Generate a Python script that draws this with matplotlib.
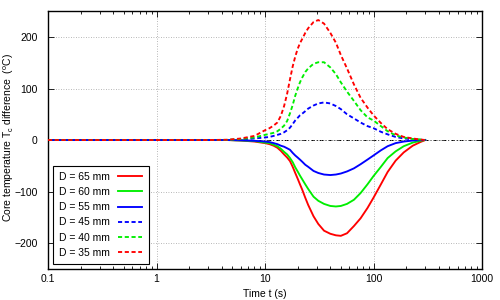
import matplotlib
matplotlib.use('Agg')
import matplotlib.pyplot as plt
from matplotlib.ticker import LogLocator, NullFormatter, FixedLocator

plt.rcParams['font.family'] = ['Liberation Sans', 'DejaVu Sans']
plt.rcParams['mathtext.fontset'] = 'custom'
plt.rcParams['mathtext.rm'] = 'Liberation Sans'

# time axis (s)
t = [0.1, 1, 3, 4.5, 6, 8, 10, 11, 12, 13, 14, 15, 16, 17, 18, 19, 20, 21, 22,
     23.5, 25, 28, 31, 35, 40, 45, 50, 57, 66, 76, 88, 100, 117, 135, 160, 190,
     230, 270, 300]

# solid curves (negative)
d65 = [0, 0, 0, 0, -1, -3, -6, -8, -11, -15, -21, -28, -34, -41, -52, -64, -75,
       -86, -96, -112, -126, -148, -163, -176, -182, -185, -186, -181, -167,
       -152, -132, -112, -86, -62, -40, -24, -11, -4, 0]
d60 = [0, 0, 0, 0, -0.8, -2, -5, -6, -9, -12, -17, -23, -28, -35, -43, -53, -61,
       -69, -76, -86, -95, -110, -118, -124, -128, -129, -128, -124, -116,
       -103, -86, -70, -52, -35, -22, -12, -5, -1.5, 0]
d55 = [0, 0, 0, 0, -0.5, -1.5, -3, -4, -6, -8, -11, -13, -16, -19, -25, -30,
       -34, -38, -42, -48, -52, -60, -64, -67, -68, -67, -65, -61, -55, -47,
       -38, -30, -20, -12, -6, -3, -1, -0.3, 0]
# dashed curves (positive)
d45 = [0, 0, 0, 0.2, 1, 3, 5, 6, 8, 10, 12, 15, 19, 24, 31, 38, 43, 48, 51,
       56, 61, 67, 71, 73, 71, 66, 60, 50, 42, 34, 27, 23, 16, 11, 6, 3, 1.5,
       0.5, 0]
d40 = [0, 0, 0, 0.3, 2, 5, 10, 12, 14, 17, 22, 28, 37, 52, 68, 86, 100, 112,
       121, 132, 139, 148, 151, 151, 141, 128, 112, 94, 76, 58, 44, 38, 27, 17,
       9, 5, 2, 1, 0]
d35 = [0, 0, 0, 0.5, 3, 8, 19, 23, 28, 34, 47, 66, 90, 118, 143, 162, 177, 188,
       196, 208, 217, 229, 233, 226, 208, 189, 165, 139, 108, 82, 63, 48, 33,
       21, 12, 6, 3, 1, 0]

series = [
    ("D = 65 mm", d65, '#ff0000', '-'),
    ("D = 60 mm", d60, '#00ee00', '-'),
    ("D = 55 mm", d55, '#0000ff', '-'),
    ("D = 45 mm", d45, '#0000ff', '--'),
    ("D = 40 mm", d40, '#00ee00', '--'),
    ("D = 35 mm", d35, '#ff0000', '--'),
]

fig = plt.figure(figsize=(5, 3), dpi=100)
ax = fig.add_axes([0.096, 0.104, 0.868, 0.8585])

ax.axhline(0, color='black', lw=0.7, ls=(0, (4, 2, 1, 2)), zorder=1)

for name, vals, col, ls in series:
    if ls == '--':
        ax.plot(t, vals, color=col, lw=1.35, ls=(0, (2.2, 1.4)), label=name, zorder=3)
    else:
        ax.plot(t, vals, color=col, lw=1.35, ls='-', label=name, zorder=3)

ax.set_xscale('log')
ax.set_xlim(0.1, 1000)
ax.set_ylim(-250, 250)
ax.xaxis.set_major_locator(FixedLocator([0.1, 1, 10, 100, 1000]))
ax.set_xticklabels(['0.1', '1', '10', '100', '1000'])
ax.xaxis.set_minor_locator(LogLocator(base=10, subs=range(2, 10)))
ax.xaxis.set_minor_formatter(NullFormatter())
ax.set_yticks([-200, -100, 0, 100, 200])

ax.grid(True, which='major', color='#a0a0a0', ls=(0, (1, 2)), lw=0.6)
ax.tick_params(which='both', direction='in', top=True, right=True,
               labelsize=7.5, colors='black')
ax.tick_params(which='major', length=4, width=0.6)
ax.tick_params(axis='x', which='major', pad=4)
ax.tick_params(axis='y', which='major', pad=7.5)
ax.tick_params(which='minor', length=2, width=0.6)
for sp in ax.spines.values():
    sp.set_linewidth(1.0)

ax.set_xlabel('Time t (s)', fontsize=7.5, labelpad=3)
ax.set_ylabel(r'Core temperature T$_\mathrm{c}$ difference  ($^\mathrm{o}$C)',
              fontsize=7.5)
ax.yaxis.set_label_coords(-0.074, 0.51)

leg = ax.legend(loc='lower left', bbox_to_anchor=(0.0115, 0.018), fontsize=7.5,
                markerfirst=False, handlelength=2.3, labelspacing=0.5,
                borderpad=0.6, handletextpad=0.8, borderaxespad=0,
                fancybox=False, framealpha=1)
leg.get_frame().set_edgecolor('black')
leg.get_frame().set_linewidth(0.8)

fig.savefig('out.png', dpi=100)
